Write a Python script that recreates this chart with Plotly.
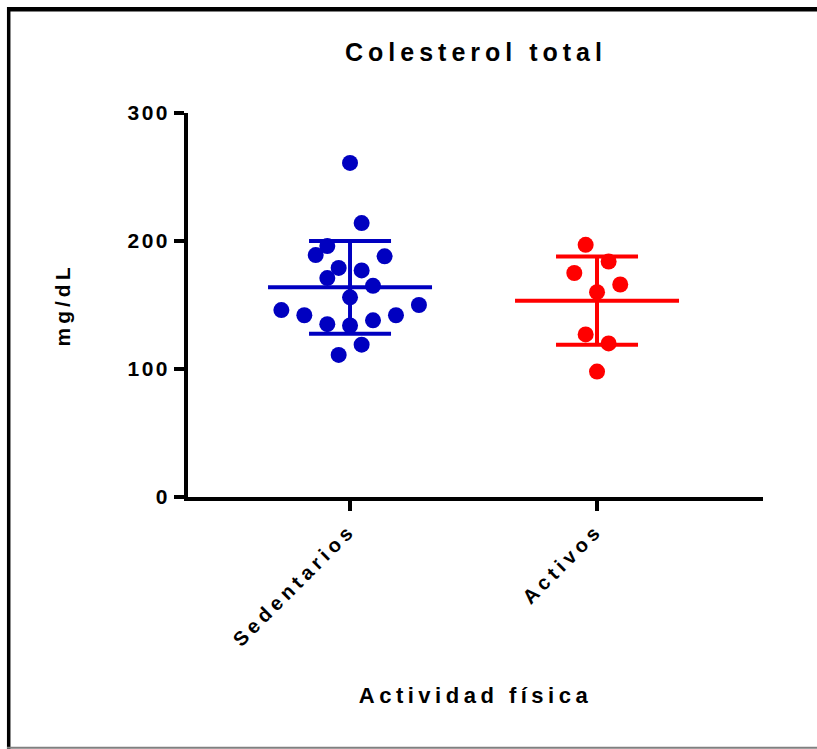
import plotly.graph_objects as go

# ---- data ----
categories = ["Sedentarios", "Activos"]
sedentarios = [261, 214, 196, 189, 188, 179, 177, 171, 165, 156, 150, 146, 142, 142, 138, 135, 134, 119, 111]
sed_offsets = [0, 0.047, -0.092, -0.139, 0.140, -0.046, 0.047, -0.092, 0.093, 0, 0.279, -0.278, -0.185, 0.186, 0.093, -0.092, 0, 0.047, -0.046]
activos = [197, 184, 175, 166, 160, 127, 120, 98]
act_offsets = [-0.046, 0.047, -0.092, 0.094, 0, -0.046, 0.047, 0]
means = [163.8, 153.4]
sds = [36.2, 34.4]
colors = ["rgb(0,0,192)", "rgb(255,0,0)"]
y_ticks = [0, 100, 200, 300]

groups = [(sedentarios, sed_offsets), (activos, act_offsets)]

FONT = "Arial, Liberation Sans, Helvetica, sans-serif"
fig = go.Figure()

MEAN_HALF = 0.332
CAP_HALF = 0.166
# mean +/- SD lines (drawn first so points sit on top)
for i, (m, s) in enumerate(zip(means, sds)):
    xs = [i - MEAN_HALF, i + MEAN_HALF, None,
          i - CAP_HALF, i + CAP_HALF, None,
          i - CAP_HALF, i + CAP_HALF, None,
          i, i]
    ys = [m, m, None,
          m + s, m + s, None,
          m - s, m - s, None,
          m - s, m + s]
    fig.add_trace(go.Scatter(x=xs, y=ys, mode="lines",
                             line=dict(color=colors[i], width=4),
                             hoverinfo="skip", showlegend=False))

for i, (vals, offs) in enumerate(groups):
    fig.add_trace(go.Scatter(x=[i + o for o in offs], y=vals, mode="markers",
                             marker=dict(color=colors[i], size=16, line=dict(width=0)),
                             name=categories[i], showlegend=False))

# pixel helpers for the decorative frame
L, R, T, B, W, H = 188, 54, 113, 252, 817, 749
def px_x(p):
    return (p - L) / (W - L - R)
def px_y(p):
    return (H - B - p) / (H - T - B)

shapes = [
    dict(type="line", xref="paper", yref="paper", x0=px_x(8.7), x1=px_x(8.7), y0=px_y(7), y1=px_y(749),
         line=dict(color="black", width=3.5)),
    dict(type="line", xref="paper", yref="paper", x0=px_x(7), x1=px_x(820), y0=px_y(9.3), y1=px_y(9.3),
         line=dict(color="black", width=4.5)),
    dict(type="line", xref="paper", yref="paper", x0=px_x(7), x1=px_x(820), y0=px_y(747.8), y1=px_y(747.8),
         line=dict(color="rgb(128,128,128)", width=2)),
]

fig.update_layout(
    width=W, height=H,
    margin=dict(l=L, r=R, t=T, b=B),
    paper_bgcolor="white", plot_bgcolor="white",
    font=dict(family=FONT, color="black"),
    title=dict(text="<b>Colesterol total</b>", x=476 / W, xanchor="center",
               y=1 - 52.5 / H, yanchor="middle", yref="container",
               font=dict(size=25, family=FONT, color="black")),
    shapes=shapes,
    xaxis=dict(range=[-0.656, 1.672], tickvals=[0, 1], ticktext=["<b>%s</b>" % c for c in categories],
               tickangle=-45, ticks="outside", ticklen=10, tickwidth=3.5, tickcolor="black",
               showline=True, linewidth=3.5, linecolor="black", showgrid=False, zeroline=False,
               tickfont=dict(size=20, family=FONT, color="black"),
               title=dict(text="<b>Actividad física</b>", font=dict(size=22, family=FONT, color="black"),
                          standoff=74)),
    yaxis=dict(range=[0, 300], tickvals=y_ticks, ticktext=["<b>%d</b>" % v for v in y_ticks],
               ticks="outside", ticklen=10, tickwidth=3.5, tickcolor="black",
               showline=True, linewidth=3.5, linecolor="black", showgrid=False, zeroline=False,
               tickfont=dict(size=21, family=FONT, color="black"),
               title=dict(text="<b>mg/dL</b>", font=dict(size=21, family=FONT, color="black"),
                          standoff=60)),
)

post = """
var s = document.createElement('style');
s.textContent = '.gtitle{letter-spacing:5px}.xtitle{letter-spacing:4.5px}.ytitle{letter-spacing:4px}' +
                '.xtick text{letter-spacing:4.5px}.ytick text{letter-spacing:2.5px}';
document.head.appendChild(s);
"""
fig.write_html("out.html", post_script=post)
